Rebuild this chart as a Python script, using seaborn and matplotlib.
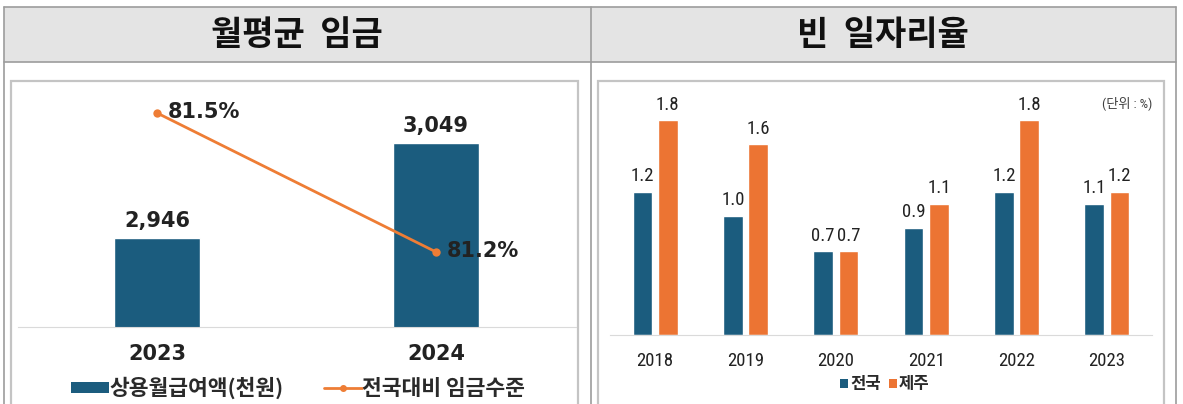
import numpy as np
import pandas as pd
import matplotlib
matplotlib.use("Agg")
import matplotlib.pyplot as plt
from matplotlib import font_manager
from matplotlib.patches import Rectangle, Patch
from matplotlib.lines import Line2D
import seaborn as sns

# --- data ---
wage_years = ["2023", "2024"]
wage_values = [2946, 3049]          # 상용월급여액(천원)
wage_ratio = [81.5, 81.2]           # 전국대비 임금수준 (%)

vac_years = ["2018", "2019", "2020", "2021", "2022", "2023"]
vac_national = [1.2, 1.0, 0.7, 0.9, 1.2, 1.1]   # 전국
vac_jeju = [1.8, 1.6, 0.7, 1.1, 1.8, 1.2]       # 제주

DARK = "#1b5c7e"
ORANGE = "#ec7433"
LINE_OR = "#ee7d35"
TXT = "#222222"

sns.set_style("white")
plt.rcParams["font.family"] = ["DejaVu Sans", "Noto Sans CJK KR"]
KR = ["Noto Sans CJK KR", "DejaVu Sans"]

# narrow face for the right chart numbers, if one is installed
installed = {f.name for f in font_manager.fontManager.ttflist}
NARROW, NSIZE = ["Noto Sans CJK KR", "DejaVu Sans"], 13
for cand in ["Liberation Sans Narrow", "Roboto Condensed"]:
    if cand in installed:
        NARROW, NSIZE = [cand, "Noto Sans CJK KR"], 13.5
        break

W, H = 1183, 404
fig = plt.figure(figsize=(W / 100, H / 100), dpi=100)


def box(l, t, r, b):
    # pixel box (from top-left) -> figure fraction rect
    return [l / W, 1 - b / H, (r - l) / W, (b - t) / H]


def fx(x):
    return x / W


def fy(y):
    return 1 - y / H


# --- table frame (behind the axes) ---
fig.patches.append(Rectangle((fx(4), fy(62)), fx(1176) - fx(4), fy(7) - fy(62),
                             transform=fig.transFigure, facecolor="#e4e4e4",
                             edgecolor="none", zorder=-3))
for xs, ys in [([4, 1176], [7, 7]), ([4, 1176], [62, 62]),
               ([4, 4], [7, 404]), ([1176, 1176], [7, 404]), ([590.5, 590.5], [7, 404])]:
    fig.lines.append(Line2D([fx(v) for v in xs], [fy(v) for v in ys],
                            transform=fig.transFigure, color="#9c9c9c", lw=1.2, zorder=-2))
for l, r in [(11, 578), (598, 1164)]:
    fig.patches.append(Rectangle((fx(l), fy(410)), fx(r) - fx(l), fy(81) - fy(410),
                                 transform=fig.transFigure, facecolor="white",
                                 edgecolor="#c4c4c4", lw=1.6, zorder=-2))

fig.text(fx(297), fy(35), "월평균  임금", ha="center", va="center",
         family=KR, fontsize=24.5, fontweight="bold", color="#111111")
fig.text(fx(883), fy(35), "빈  일자리율", ha="center", va="center",
         family=KR, fontsize=24.5, fontweight="bold", color="#111111")

# --- left: monthly wage ---
ax = fig.add_axes(box(17.5, 81, 575.5, 327))
sns.barplot(x=wage_years, y=wage_values, color=DARK, saturation=1, width=0.31, ax=ax)
ax.set_xlim(-0.5, 1.5)
ax.set_ylim(2849.5, 3116.2)
ax.bar_label(ax.containers[0], labels=[f"{v:,}" for v in wage_values], padding=5,
             fontsize=15, fontweight="bold", color=TXT)
for s in ["top", "left", "right"]:
    ax.spines[s].set_visible(False)
ax.spines["bottom"].set_color("#dadada")
ax.set_yticks([])
ax.set_xlabel("")
ax.set_ylabel("")
ax.tick_params(axis="x", length=0, pad=12, labelsize=15, labelcolor=TXT)
for t in ax.get_xticklabels():
    t.set_fontweight("bold")
ax.patch.set_alpha(0)

ax2 = ax.twinx()
sns.lineplot(x=np.arange(len(wage_years)), y=wage_ratio, color=LINE_OR, lw=2,
             marker="o", markersize=6, markeredgewidth=0, ax=ax2)
ax2.set_xlim(-0.5, 1.5)
ax2.set_ylim(81.038, 81.569)
ax2.axis("off")
for i, v in enumerate(wage_ratio):
    ax2.annotate(f"{v}%", (i, v), xytext=(8, 1), textcoords="offset points",
                 ha="left", va="center", fontsize=15, fontweight="bold", color=TXT)

handles = [Patch(facecolor=DARK, edgecolor="none"),
           Line2D([], [], color=LINE_OR, lw=2, marker="o", markersize=4)]
ax.legend(handles, ["상용월급여액(천원)", "전국대비 임금수준"], loc="center",
          bbox_to_anchor=(fx(298), fy(388)), bbox_transform=fig.transFigure,
          ncol=2, frameon=False, handlelength=1.75, handleheight=0.45,
          handletextpad=0.0, columnspacing=1.9,
          prop={"family": KR, "size": 15.5, "weight": "bold"}, labelcolor="#2a2a2a")

# --- right: vacancy rate ---
df = pd.DataFrame({
    "year": vac_years * 2,
    "value": vac_national + vac_jeju,
    "region": ["전국"] * len(vac_years) + ["제주"] * len(vac_years),
})
bx = fig.add_axes(box(610, 81, 1152, 335))
sns.barplot(data=df, x="year", y="value", hue="region", palette=[DARK, ORANGE],
            saturation=1, width=0.56, gap=0.22, legend=False, ax=bx)
bx.set_xlim(-0.5, 5.5)
bx.set_ylim(0, 2.127)
for c, vals in zip(bx.containers, [vac_national, vac_jeju]):
    bx.bar_label(c, labels=[f"{v:.1f}" for v in vals], padding=4.5,
                 family=NARROW, fontsize=NSIZE, color=TXT)
for s in ["top", "left", "right"]:
    bx.spines[s].set_visible(False)
bx.spines["bottom"].set_color("#dadada")
bx.set_yticks([])
bx.set_xlabel("")
bx.set_ylabel("")
bx.tick_params(axis="x", length=0, pad=12, labelsize=13.5, labelcolor=TXT)
for t in bx.get_xticklabels():
    t.set_family(NARROW)
bx.patch.set_alpha(0)
bx.text(1.0, 0.912, "(단위 : %)", transform=bx.transAxes, ha="right", va="center",
        family=NARROW, fontsize=9.5, color="#404040")

rh = [Patch(facecolor=DARK, edgecolor="none"), Patch(facecolor=ORANGE, edgecolor="none")]
bx.legend(rh, ["전국", "제주"], loc="center",
          bbox_to_anchor=(fx(885), fy(384)), bbox_transform=fig.transFigure,
          ncol=2, frameon=False, handlelength=0.45, handleheight=0.45,
          handletextpad=0.15, columnspacing=0.5,
          prop={"family": KR, "size": 12, "weight": "bold"}, labelcolor="#2a2a2a")

fig.savefig("out.png", dpi=100)
